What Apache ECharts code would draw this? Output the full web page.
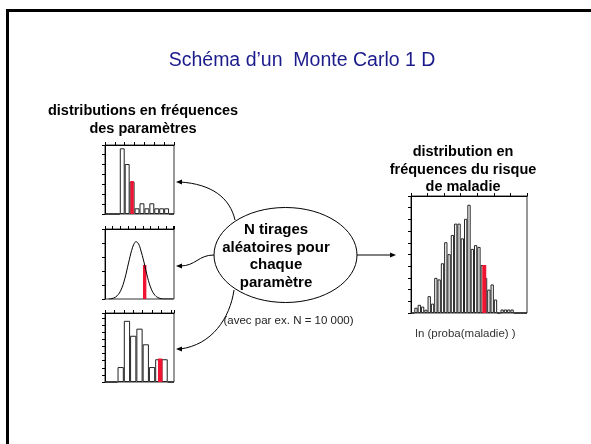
<!DOCTYPE html>
<html><head><meta charset="utf-8">
<script src="https://cdn.jsdelivr.net/npm/echarts@6/dist/echarts.min.js"></script>
<style>html,body{margin:0;padding:0;background:#fff}#c{width:591px;height:444px}</style>
</head><body><div id="c"></div>
<script>
// ---------- data ----------
const titleText = "Schéma d\u2019un  Monte Carlo 1 D";
const leftTitle = ["distributions en fréquences", "des paramètres"];
const rightTitle = ["distribution en", "fréquences du risque", "de maladie"];
const ellipseText = ["N tirages", "aléatoires pour", "chaque", "paramètre"];
const noteText = "(avec par ex. N = 10 000)";
const riskAxisName = "ln (proba(maladie) )";

// parameter 1 histogram (14 bins)
const hist1Values = [0, 0, 0, 6.57, 5.0, 3.23, 0.57, 1.07, 0.57, 1.07, 0.57, 0.57, 0.57, 0];
const hist1Draw = [5.5, 3.3];           // [bin position, height]
// parameter 2 density curve [position, height]
const hist2Curve = [[0.5, 0], [1.1, 0.06], [1.6, 0.23], [2.1, 0.64], [2.6, 1.44], [3.1, 2.58], [3.5, 3.46],
  [3.8, 3.92], [4.08, 4.09], [4.4, 3.95], [4.7, 3.5], [5.1, 2.7], [5.6, 1.55], [6.1, 0.7], [6.6, 0.25],
  [7.1, 0.07], [7.7, 0], [9.0, 0]];
const hist2Draw = [5.22, 2.43];
// parameter 3 histogram (11 bins)
const hist3Values = [0, 0, 2.1, 8.6, 6.5, 7.5, 5.3, 2.1, 3.2, 3.2, 0];
const hist3Draw = [8.8, 3.3];
// disease risk histogram (35 bins)
const riskValues = [0, 0.45, 0.7, 0.55, 0.28, 1.44, 0.8, 3.0, 2.87, 4.25, 6.05, 5.03, 6.67, 7.64, 7.64,
  6.38, 8.05, 9.25, 5.48, 5.8, 5.65, 4.1, 3.0, 2.0, 2.44, 1.15, 0, 0.3, 0.3, 0.3, 0.3, 0, 0, 0, 0];
const riskDraw = [22.1, 4.1];

// ---------- chart ----------
const FONT = '"Liberation Sans", Arial, sans-serif';
const RED = '#ee1432';
const chart = echarts.init(document.getElementById('c'), null, {renderer: 'canvas'});

const grids = [
  {left: 105, top: 145, width: 69, height: 69},
  {left: 105, top: 229, width: 69, height: 70},
  {left: 105, top: 313, width: 69, height: 69},
  {left: 411, top: 196, width: 116, height: 117}
];
function catAxis(g, n){
  return {type: 'category', gridIndex: g, data: Array.from({length: n}, (_, i) => i), show: false, boundaryGap: true};
}
function valX(g, max, interval){
  return {type: 'value', gridIndex: g, min: 0, max: max, interval: interval,
    axisLine: {show: true, onZero: false, lineStyle: {color: '#000', width: 1}},
    axisTick: {show: true, length: 3, lineStyle: {color: '#000'}},
    axisLabel: {show: false}, splitLine: {show: false}};
}
function valY(g, max, interval){
  return {type: 'value', gridIndex: g, min: 0, max: max, interval: interval,
    axisLine: {show: true, lineStyle: {color: '#000', width: 1}},
    axisTick: {show: true, length: 3, lineStyle: {color: '#000'}},
    axisLabel: {show: false}, splitLine: {show: false}};
}
const xAxis = [
  catAxis(0, hist1Values.length), valX(0, hist1Values.length, 2),
  catAxis(1, 10), valX(1, 9.08, 1),
  catAxis(2, hist3Values.length), valX(2, hist3Values.length, 1.5),
  catAxis(3, riskValues.length), valX(3, riskValues.length, 5)
];
const yAxis = [valY(0, 6.9, 1), valY(1, 5, 1), valY(2, 9.7, 1), valY(3, 10, 1)];

const barStyle = {color: '#fff', borderColor: '#222', borderWidth: 1};
function hist(xi, yi, data){
  return {type: 'bar', xAxisIndex: xi, yAxisIndex: yi, data: data, barCategoryGap: '0%',
    itemStyle: barStyle, silent: true};
}
function marker(xi, yi, d, w){
  return {type: 'bar', xAxisIndex: xi, yAxisIndex: yi, data: [d], barWidth: w,
    itemStyle: {color: RED}, silent: true, z: 3};
}
const series = [
  hist(0, 0, hist1Values), marker(1, 0, hist1Draw, 3.3),
  {type: 'line', xAxisIndex: 3, yAxisIndex: 1, data: hist2Curve, smooth: 0.4, symbol: 'none',
    lineStyle: {color: '#000', width: 1}, silent: true},
  marker(3, 1, hist2Draw, 3.4),
  hist(4, 2, hist3Values), marker(5, 2, hist3Draw, 4.5),
  hist(6, 3, riskValues), marker(7, 3, riskDraw, 4)
];

function txt(x, y, lines, size, weight, fill, lh){
  return {type: 'text', x: x, y: y, z: 10, silent: true,
    style: {text: lines.join('\n'), fontSize: size, fontWeight: weight, fontFamily: FONT,
      fill: fill, align: 'center', verticalAlign: 'middle', lineHeight: lh || size * 1.2}};
}
function head(tx, ty, dir){
  const L = 6, W = 2.6;
  const pts = dir === 'left' ? [[tx, ty], [tx + L, ty - W], [tx + L, ty + W]]
                             : [[tx, ty], [tx - L, ty - W], [tx - L, ty + W]];
  return {type: 'polygon', shape: {points: pts}, style: {fill: '#000'}, silent: true};
}
function curve(x1, y1, c1x, c1y, c2x, c2y, x2, y2){
  return {type: 'bezierCurve', shape: {x1: x1, y1: y1, cpx1: c1x, cpy1: c1y, cpx2: c2x, cpy2: c2y, x2: x2, y2: y2},
    style: {stroke: '#000', lineWidth: 1, fill: null}, silent: true};
}

const graphic = [
  {type: 'polyline', shape: {points: [[7.5, 444], [7.5, 10.5], [591, 10.5]]},
    style: {stroke: '#000', lineWidth: 3, fill: null}, silent: true},
  txt(302, 60.5, [titleText], 19.5, 'normal', '#1b1b8b'),
  txt(143, 120, leftTitle, 14.5, 'bold', '#000', 17.5),
  txt(463, 169.5, rightTitle, 14.5, 'bold', '#000', 17.5),
  {type: 'ellipse', shape: {cx: 285.5, cy: 255, rx: 71.5, ry: 47.5},
    style: {fill: null, stroke: '#000', lineWidth: 1}, silent: true},
  txt(276, 256.5, ellipseText, 15, 'bold', '#000', 17.7),
  txt(288.5, 321, [noteText], 11.5, 'normal', '#222'),
  txt(465.5, 333.5, [riskAxisName], 11.5, 'normal', '#333'),
  curve(235, 220, 230, 198, 212, 184, 180, 182), head(176, 182, 'left'),
  curve(214, 255, 198, 255, 196, 266, 180, 266), head(176, 266, 'left'),
  curve(234, 290, 230, 318, 212, 345, 180, 349), head(176, 349, 'left'),
  {type: 'line', shape: {x1: 357, y1: 255, x2: 392, y2: 255}, style: {stroke: '#000', lineWidth: 1}, silent: true},
  head(396, 255, 'right')
];

chart.setOption({
  animation: false,
  backgroundColor: '#fff',
  grid: grids.map(g => Object.assign({show: true, borderColor: '#333', borderWidth: 1, backgroundColor: 'transparent'}, g)),
  xAxis: xAxis, yAxis: yAxis, series: series, graphic: graphic
});
</script></body></html>
